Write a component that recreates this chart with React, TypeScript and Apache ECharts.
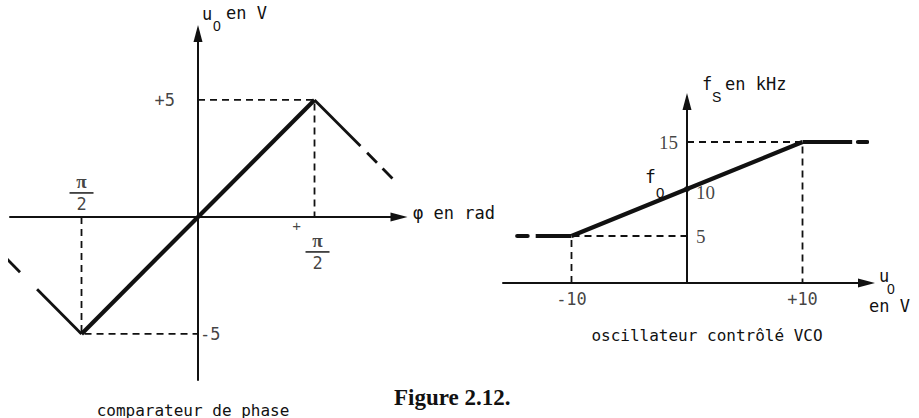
import React, { useEffect, useRef } from 'react';
import * as echarts from 'echarts';

const INK = '#111';
const MONO = '"DejaVu Sans Mono", "Liberation Mono", monospace';
const SANS = '"Liberation Sans", "DejaVu Sans", sans-serif';
const SERIF = '"Liberation Serif", "DejaVu Serif", serif';
const HALF_PI = Math.PI / 2;

// Comparateur de phase: phase error (rad) -> u0 (V)
const rampPhase = [-HALF_PI, 0, HALF_PI];
const rampVolt = [-5, 0, 5];
const fallRightPhase = [HALF_PI, 2.19];
const fallRightVolt = [5, 3.03];
const fallRightDashPhase = [2.28, 2.63];
const fallRightDashVolt = [2.74, 1.62];
const fallLeftPhase = [-2.17, -HALF_PI];
const fallLeftVolt = [-3.09, -5];
const fallLeftDashPhase = [-2.62, -2.4];
const fallLeftDashVolt = [-1.66, -2.36];
const phaseGuideHighX = [0, HALF_PI, HALF_PI];
const phaseGuideHighY = [5, 5, 0];
const phaseGuideLowX = [-HALF_PI, -HALF_PI, 0];
const phaseGuideLowY = [0, -5, -5];
const uTickValues = [5, -5];

// VCO: u0 (V) -> fs (kHz)
const vcoRampU = [-10, 0, 10];
const vcoRampF = [5, 10, 15];
const vcoLowU = [-13.1, -10];
const vcoLowF = [5, 5];
const vcoLowDashU = [-14.7, -13.8];
const vcoLowDashF = [5, 5];
const vcoHighU = [10, 14.3];
const vcoHighF = [15, 15];
const vcoHighDashU = [14.8, 15.6];
const vcoHighDashF = [15, 15];
const vcoGuideHighU = [0, 10, 10];
const vcoGuideHighF = [15, 15, 0];
const vcoGuideLowU = [-10, -10, 0];
const vcoGuideLowF = [0, 5, 5];
const fTickValues = [15, 10, 5];
const uTickValuesVco = [-10, 10];
const f0Value = 10;

const zip = (xs: number[], ys: number[]) => xs.map((x, i) => [x, ys[i]]);

const axis = (extra: any) => ({
  type: 'value',
  ...extra,
  axisLine: {
    show: true,
    onZero: true,
    symbol: ['none', 'triangle'],
    symbolSize: [9, 17],
    lineStyle: { color: INK, width: 2 },
  },
  axisTick: { show: false },
  axisLabel: { show: false },
  splitLine: { show: false },
});

const line = (grid: number, data: number[][], width: number, dashed?: number[], cap = 'butt') => ({
  type: 'line',
  xAxisIndex: grid,
  yAxisIndex: grid,
  data,
  symbol: 'none',
  clip: false,
  silent: true,
  lineStyle: { color: INK, width, type: dashed ?? 'solid', cap, join: 'round' },
});

const fraction = {
  formatter: '{n|π}\n{b| }\n{d|2}',
  rich: {
    n: { fontFamily: SERIF, fontWeight: 'bold', fontSize: 19, lineHeight: 18, align: 'center', color: INK },
    b: { width: 24, height: 1.8, lineHeight: 4, backgroundColor: INK, fontSize: 1, align: 'center' },
    d: { fontFamily: MONO, fontSize: 17, lineHeight: 18, align: 'center', color: INK },
  },
};

const signed = (v: number) => (v > 0 ? `+${v}` : `-${Math.abs(v)}`);

const textEl = (text: string, x: number, y: number, style: any = {}) => ({
  type: 'text',
  x,
  y,
  silent: true,
  style: {
    text,
    fill: INK,
    fontFamily: MONO,
    fontSize: 16,
    align: 'left',
    verticalAlign: 'middle',
    ...style,
  },
});

const option: any = {
  animation: false,
  backgroundColor: '#fff',
  grid: [
    { left: 10, right: 520, top: 33.5, bottom: 38 },
    { left: 503, right: 52.5, top: 101.5, bottom: 135 },
  ],
  xAxis: [
    axis({ gridIndex: 0, min: -2.535, max: 2.71 }),
    axis({ gridIndex: 1, min: -15.93, max: 15.54 }),
  ],
  yAxis: [
    axis({ gridIndex: 0, min: -6.97, max: 7.84 }),
    axis({ gridIndex: 1, min: 0, max: 19.31 }),
  ],
  series: [
    // phase comparator
    line(0, zip(phaseGuideHighX, phaseGuideHighY), 1.8, [7, 5]),
    line(0, zip(phaseGuideLowX, phaseGuideLowY), 1.8, [7, 5]),
    line(0, zip(rampPhase, rampVolt), 4.2),
    line(0, zip(fallRightPhase, fallRightVolt), 2.8),
    line(0, zip(fallRightDashPhase, fallRightDashVolt), 2.8, [14, 8]),
    line(0, zip(fallLeftPhase, fallLeftVolt), 2.8),
    line(0, zip(fallLeftDashPhase, fallLeftDashVolt), 2.8),
    {
      type: 'scatter',
      xAxisIndex: 0,
      yAxisIndex: 0,
      symbolSize: 0,
      silent: true,
      clip: false,
      label: { show: true, color: INK, fontFamily: MONO, fontSize: 17 },
      data: [
        { value: [0, uTickValues[0]], label: { formatter: signed(uTickValues[0]), position: 'left', distance: 23 } },
        { value: [0, uTickValues[1]], label: { formatter: signed(uTickValues[1]), position: 'right', distance: 2 } },
        { value: [-HALF_PI, 0], label: { ...fraction, position: 'top', distance: 4 } },
        { value: [HALF_PI, 0], label: { ...fraction, position: 'bottom', distance: 15, offset: [3, 0] } },
        { value: [HALF_PI, 0], label: { formatter: '+', position: 'bottom', distance: 1, offset: [-18, 0], fontSize: 15, fontFamily: SANS } },
      ],
    },
    // VCO
    line(1, zip(vcoGuideHighU, vcoGuideHighF), 1.8, [7, 5]),
    line(1, zip(vcoGuideLowU, vcoGuideLowF), 1.8, [7, 5]),
    line(1, zip(vcoRampU, vcoRampF), 4.2),
    line(1, zip(vcoLowU, vcoLowF), 4.2),
    line(1, zip(vcoLowDashU, vcoLowDashF), 4.2, undefined, 'round'),
    line(1, zip(vcoHighU, vcoHighF), 4.2),
    line(1, zip(vcoHighDashU, vcoHighDashF), 4.2, undefined, 'round'),
    {
      type: 'scatter',
      xAxisIndex: 1,
      yAxisIndex: 1,
      symbolSize: 0,
      silent: true,
      clip: false,
      label: { show: true, color: INK, fontFamily: SERIF, fontSize: 19 },
      data: [
        { value: [0, fTickValues[0]], label: { formatter: `${fTickValues[0]}`, position: 'left', distance: 9 } },
        { value: [0, fTickValues[1]], label: { formatter: `${fTickValues[1]}`, position: 'right', distance: 9, offset: [0, 3] } },
        { value: [0, fTickValues[2]], label: { formatter: `${fTickValues[2]}`, position: 'right', distance: 9 } },
        { value: [uTickValuesVco[0], 0], label: { formatter: signed(uTickValuesVco[0]), position: 'bottom', distance: 7, fontFamily: MONO, fontSize: 17 } },
        { value: [uTickValuesVco[1], 0], label: { formatter: signed(uTickValuesVco[1]), position: 'bottom', distance: 7, fontFamily: MONO, fontSize: 17 } },
      ],
    },
    {
      type: 'scatter',
      xAxisIndex: 1,
      yAxisIndex: 1,
      symbol: 'circle',
      symbolSize: 6,
      silent: true,
      itemStyle: { color: INK },
      data: [[0, f0Value]],
    },
  ],
  graphic: [
    textEl('u', 202, 14, { fontSize: 17 }),
    textEl('0', 213, 26, { fontFamily: SANS, fontSize: 14 }),
    textEl('en V', 226, 13, { fontSize: 17 }),
    textEl('φ en rad', 413, 213, { fontSize: 17 }),
    textEl('f', 702, 84, { fontSize: 17 }),
    textEl('S', 712, 97, { fontFamily: SANS, fontSize: 14 }),
    textEl('en kHz', 725, 84, { fontSize: 17 }),
    textEl('f', 645, 176, { fontSize: 18 }),
    textEl('0', 656, 192, { fontFamily: SANS, fontSize: 15 }),
    textEl('u', 879, 276, { fontSize: 17 }),
    textEl('0', 887, 289, { fontFamily: SANS, fontSize: 14 }),
    textEl('en V', 869, 306, { fontSize: 17 }),
    textEl('comparateur de phase', 193, 410, { align: 'center' }),
    textEl('oscillateur contrôlé VCO', 707, 335, { align: 'center' }),
    textEl('Figure 2.12.', 394, 397, { fontFamily: SERIF, fontWeight: 'bold', fontSize: 23 }),
  ],
};

export default function App() {
  const ref = useRef<HTMLDivElement>(null);
  useEffect(() => {
    const chart = echarts.init(ref.current!, null, { renderer: 'svg' });
    chart.setOption(option);
    return () => chart.dispose();
  }, []);
  return (
    <div
      ref={ref}
      style={{ position: 'fixed', left: 0, top: 0, width: 919, height: 418, background: '#fff' }}
    />
  );
}
